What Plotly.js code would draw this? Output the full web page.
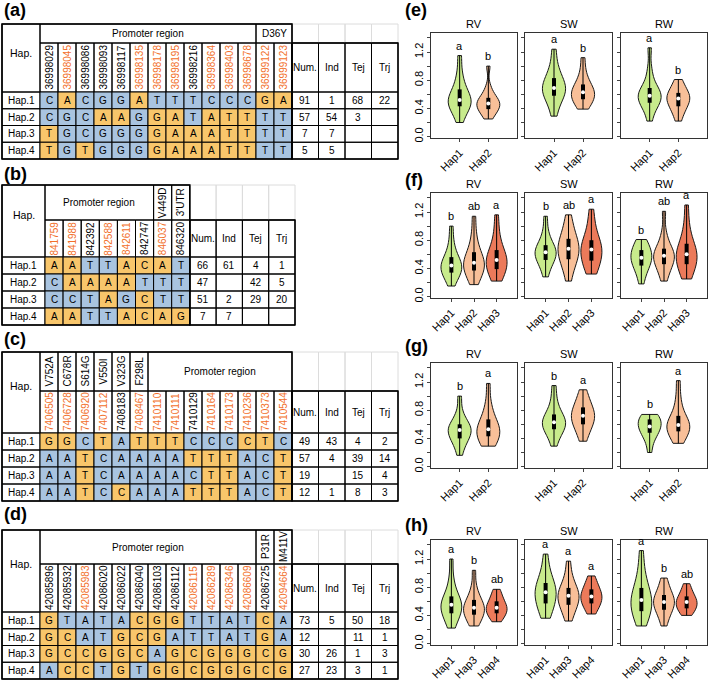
<!DOCTYPE html>
<html><head><meta charset="utf-8">
<script src="https://cdn.plot.ly/plotly-3.0.1.min.js"></script>
<style>body{margin:0;background:#fff}#chart{width:709px;height:681px}</style>
</head><body><div id="chart"></div>
<script>
// ---------------- DATA: haplotype tables ----------------
const hapLabels = ["Hap.1","Hap.2","Hap.3","Hap.4"];
const statNames = ["Num.","Ind","Tej","Trj"];

// (a)
const aPositions = ["36998029","36998045","36998086","36998093","36998117","36998135","36998178","36998195","36998216","36998364","36998403","36998678","36999122","36999123"];
const aOrange = [0,1,0,0,0,1,1,1,0,1,1,1,1,1];
const aAlleles = ["CACGGATTTCCCGA","CGCAAGGATATTTT","TGCGGGGAAATTTT","TGTGGGGAAATTTT"];
const aFills = ["BYBBBYBBBBBBYY","BBBYYBYYBYYYBB","YBBBBBYYYYYYBB","YBYBBBYYYYYYBB"];
const aNum = [91,57,7,5], aInd = [1,54,7,5], aTej = [68,3,null,null], aTrj = [22,null,null,null];
const aGroups = [["Promoter region",12,0],["D36Y",2,0]];

// (b)
const bPositions = ["841759","841988","842392","842588","842611","842747","846037","846320"];
const bOrange = [1,1,0,1,1,0,1,0];
const bAlleles = ["AATTACAT","CAAAATTT","CCTAGCTT","AATTACAG"];
const bFills = ["YYBBYYYB","BYYYYBBB","BBBYBYBB","YYBBYYYY"];
const bNum = [66,47,51,7], bInd = [61,null,2,7], bTej = [4,42,29,null], bTrj = [1,5,20,null];
const bGroups = [["Promoter region",6,0],["V449D",1,1],["3'UTR",1,1]];

// (c)
const cPositions = ["7406505","7406728","7406920","7407112","7408183","7408467","7410110","7410111","7410129","7410164","7410173","7410236","7410373","7410544"];
const cOrange = [1,1,1,1,0,1,1,1,0,1,1,1,1,1];
const cAlleles = ["GGCTATTTCCCCTC","AATCAAAATTTACT","AATCAAAACTTACT","AATCCAAATTTACT"];
const cFills = ["YYBYBYYYBBBYYB","BBYBBBBBYYYBBY","BBYBBBBBBYYBBY","BBYBYBBBYYYBBY"];
const cNum = [49,57,19,12], cInd = [43,4,null,1], cTej = [4,39,15,8], cTrj = [2,14,4,3];
const cGroups = [["V752A",1,1],["C678R",1,1],["S614G",1,1],["V550I",1,1],["V323G",1,1],["F298L",1,1],["Promoter region",8,0]];

// (d)
const dPositions = ["42085896","42085932","42085983","42086020","42086022","42086040","42086103","42086112","42086115","42086289","42086346","42086609","42086725","42094664"];
const dOrange = [0,0,1,0,0,0,0,0,1,1,1,1,0,1];
const dAlleles = ["GTATACGGTTATCA","GCATGCGATTATGA","GCCGGCAGCGGGCG","ACCTGTGGCGGGCG"];
const dFills = ["YBBBBYYYBBBBYB","YYBBYYYBBBBBYB","YYYYYYBYYYYYYY","BYYBYBYYYYYYYY"];
const dNum = [73,12,30,27], dInd = [5,null,26,23], dTej = [50,11,1,3], dTrj = [18,1,3,1];
const dGroups = [["Promoter region",12,0],["P31R",1,1],["M411V",1,1]];

// ---------------- DATA: violin panels (estimated sample values) ----------------
const traitNames = ["RV","SW","RW"];
const eGroups = ["Hap1","Hap2"];
const eRV = [[0.20,0.33,0.40,0.43,0.47,0.50,0.52,0.55,0.60,0.67,0.75,0.90,1.15],
             [0.25,0.32,0.36,0.39,0.42,0.45,0.47,0.49,0.52,0.55,0.60,0.70,1.00]];
const eSW = [[0.29,0.45,0.53,0.58,0.63,0.67,0.69,0.72,0.77,0.83,0.90,1.02,1.24],
             [0.39,0.46,0.50,0.53,0.57,0.60,0.63,0.65,0.69,0.74,0.80,0.92,1.12]];
const eRW = [[0.22,0.38,0.44,0.48,0.53,0.56,0.58,0.61,0.65,0.69,0.78,0.95,1.26],
             [0.22,0.33,0.39,0.43,0.48,0.52,0.54,0.56,0.59,0.62,0.67,0.73,0.81]];
const eLetters = [["a","b"],["a","b"],["a","b"]];

const fGroups = ["Hap1","Hap2","Hap3"];
const fRV = [[0.15,0.27,0.31,0.34,0.38,0.42,0.44,0.47,0.51,0.56,0.64,0.78,1.00],
             [0.17,0.28,0.33,0.37,0.42,0.46,0.48,0.51,0.56,0.63,0.72,0.88,1.14],
             [0.22,0.30,0.35,0.39,0.45,0.50,0.52,0.55,0.60,0.66,0.76,0.92,1.16]];
const fSW = [[0.28,0.42,0.48,0.52,0.57,0.61,0.63,0.65,0.69,0.73,0.80,0.92,1.14],
             [0.22,0.40,0.47,0.53,0.60,0.65,0.68,0.71,0.76,0.82,0.90,1.00,1.16],
             [0.32,0.40,0.46,0.51,0.58,0.64,0.67,0.70,0.75,0.80,0.90,1.04,1.24]];
const fRW = [[0.18,0.32,0.39,0.44,0.49,0.53,0.55,0.58,0.62,0.66,0.71,0.76,0.81],
             [0.22,0.34,0.41,0.46,0.51,0.55,0.58,0.60,0.64,0.68,0.76,0.90,1.21],
             [0.25,0.34,0.40,0.46,0.52,0.57,0.60,0.63,0.68,0.75,0.85,1.02,1.30]];
const fLetters = [["b","ab","a"],["b","ab","a"],["b","ab","a"]];

const gGroups = ["Hap1","Hap2"];
const gRV = [[0.16,0.30,0.36,0.40,0.45,0.49,0.52,0.54,0.57,0.60,0.66,0.77,1.00],
             [0.29,0.31,0.37,0.43,0.47,0.50,0.53,0.56,0.61,0.67,0.76,0.90,1.18]];
const gSW = [[0.29,0.43,0.49,0.53,0.57,0.61,0.63,0.66,0.70,0.74,0.82,0.95,1.15],
             [0.36,0.48,0.55,0.60,0.65,0.69,0.72,0.75,0.79,0.84,0.90,0.98,1.09]];
const gRW = [[0.20,0.36,0.43,0.48,0.52,0.55,0.57,0.60,0.64,0.67,0.70,0.73,0.74],
             [0.33,0.40,0.46,0.50,0.54,0.57,0.59,0.62,0.67,0.72,0.82,0.98,1.22]];
const gLetters = [["b","a"],["b","a"],["b","a"]];

const hGroups = ["Hap1","Hap3","Hap4"];
const hRV = [[0.22,0.33,0.39,0.43,0.48,0.52,0.55,0.58,0.62,0.67,0.76,0.92,1.20],
             [0.25,0.32,0.37,0.41,0.45,0.48,0.51,0.53,0.57,0.62,0.68,0.80,1.04],
             [0.31,0.37,0.40,0.43,0.46,0.49,0.51,0.53,0.56,0.60,0.65,0.71,0.77]];
const hSW = [[0.36,0.46,0.52,0.57,0.64,0.70,0.73,0.76,0.81,0.86,0.94,1.06,1.27],
             [0.32,0.44,0.50,0.55,0.60,0.65,0.68,0.70,0.74,0.79,0.86,0.97,1.17],
             [0.42,0.49,0.54,0.57,0.61,0.65,0.67,0.69,0.73,0.77,0.82,0.88,0.96]];
const hRW = [[0.25,0.36,0.42,0.46,0.53,0.59,0.62,0.66,0.72,0.79,0.90,1.06,1.32],
             [0.25,0.37,0.44,0.48,0.53,0.57,0.59,0.62,0.65,0.69,0.75,0.83,0.93],
             [0.40,0.45,0.48,0.50,0.54,0.57,0.59,0.61,0.64,0.67,0.72,0.78,0.85]];
const hLetters = [["a","b","ab"],["a","a","a"],["a","b","ab"]];

// ---------------- STYLE / LAYOUT ----------------
const W = 709, H = 681;
const FONT = 'Arial, "Liberation Sans", sans-serif';
const BLUE = '#a9c4e0', YELLOW = '#f8c66b', ORANGE = '#f26f2a';
const VCOL = ['#c8eb8c', '#f8bf98', '#ec7a5a'];
const shapes = [], annotations = [], traces = [];

function rect(x0, y0, x1, y1, fill, lc, lw) {
  shapes.push({type:'rect', xref:'x', yref:'y', x0, y0, x1, y1, layer:'above',
    fillcolor: fill || 'rgba(0,0,0,0)', line:{color: lc || '#000', width: lw === undefined ? 1 : lw}});
}
function txt(x, y, t, size, extra) {
  annotations.push(Object.assign({xref:'x', yref:'y', x, y, text:t, showarrow:false,
    xanchor:'center', yanchor:'middle', font:{family:FONT, size:size, color:'#000'}}, extra || {}));
}

function drawTable(g, pos, orange, alleles, fills, num, ind, tej, trj, groups) {
  const nS = pos.length;
  const xS0 = g.left + g.hapW, xSt0 = xS0 + nS * g.snpW;
  const yH2 = g.top + g.h1, yR0 = yH2 + g.h2, bottom = yR0 + hapLabels.length * g.rh;
  rect(g.left, g.top, xS0, yR0);
  txt((g.left + xS0) / 2, g.top + (yR0 - g.top) * 0.42, 'Hap.', 10.5);
  let c = 0;
  groups.forEach(([label, span, rot]) => {
    const x0 = xS0 + c * g.snpW, x1 = x0 + span * g.snpW;
    rect(x0, g.top, x1, yH2);
    txt((x0 + x1) / 2, (g.top + yH2) / 2, label, 10, rot ? {textangle:-90} : {});
    c += span;
  });
  pos.forEach((p, i) => {
    const x0 = xS0 + i * g.snpW;
    rect(x0, yH2, x0 + g.snpW, yR0);
    txt(x0 + g.snpW / 2, (yH2 + yR0) / 2, p, 10,
      {textangle:-90, font:{family:FONT, size:10, color: orange[i] ? ORANGE : '#000'}});
  });
  const stats = [num, ind, tej, trj];
  statNames.forEach((s, j) => {
    const x0 = xSt0 + j * g.statW;
    rect(x0, g.top, x0 + g.statW, yH2, null, '#dcdcdc', 1);
    rect(x0, yH2, x0 + g.statW, yR0);
    txt(x0 + g.statW / 2, (yH2 + yR0) / 2, s, 10);
  });
  hapLabels.forEach((h, r) => {
    const y0 = yR0 + r * g.rh, y1 = y0 + g.rh;
    rect(g.left, y0, xS0, y1);
    txt((g.left + xS0) / 2, (y0 + y1) / 2, h, 10);
    for (let i = 0; i < nS; i++) {
      const x0 = xS0 + i * g.snpW;
      rect(x0, y0, x0 + g.snpW, y1, fills[r][i] === 'B' ? BLUE : YELLOW);
      txt(x0 + g.snpW / 2, (y0 + y1) / 2, alleles[r][i], 10);
    }
    stats.forEach((arr, j) => {
      const x0 = xSt0 + j * g.statW;
      rect(x0, y0, x0 + g.statW, y1);
      if (arr[r] !== null) txt(x0 + g.statW / 2, (y0 + y1) / 2, String(arr[r]), 10);
    });
  });
  rect(g.left, g.top, xSt0, bottom, null, '#000', 1.6);
  rect(xSt0, yH2, xSt0 + 4 * g.statW, bottom, null, '#000', 1.4);
}

drawTable({left:2, top:24, hapW:38, snpW:18, statW:26.5, h1:19, h2:49, rh:16.75},
  aPositions, aOrange, aAlleles, aFills, aNum, aInd, aTej, aTrj, aGroups);
drawTable({left:2, top:185, hapW:43, snpW:18.1, statW:26.3, h1:35, h2:37, rh:17},
  bPositions, bOrange, bAlleles, bFills, bNum, bInd, bTej, bTrj, bGroups);
drawTable({left:2, top:352, hapW:38, snpW:18, statW:26.5, h1:39, h2:42, rh:17},
  cPositions, cOrange, cAlleles, cFills, cNum, cInd, cTej, cTrj, cGroups);
drawTable({left:2, top:530, hapW:38, snpW:18, statW:26.5, h1:34, h2:48, rh:16.75},
  dPositions, dOrange, dAlleles, dFills, dNum, dInd, dTej, dTrj, dGroups);

// panel labels
[["(a)",2,10],["(b)",2,174],["(c)",2,339],["(d)",2,514],
 ["(e)",403,10],["(f)",403,180],["(g)",403,346],["(h)",403,525]].forEach(([t,x,y]) =>
  txt(x, y, '<b>' + t + '</b>', 18, {xanchor:'left'}));

// ---------------- violins ----------------
function quant(arr, p) {
  const s = [...arr].sort((a, b) => a - b);
  const k = (s.length - 1) * p, lo = Math.floor(k), hi = Math.ceil(k);
  return s[lo] + (s[hi] - s[lo]) * (k - lo);
}
const colsPx = [[431,517],[525,612],[621,707]];
const rowsPx = [[33,138],[193,298],[363,468],[540,645]];
const panelRows = [
  {groups:eGroups, data:[eRV,eSW,eRW], letters:eLetters},
  {groups:fGroups, data:[fRV,fSW,fRW], letters:fLetters},
  {groups:gGroups, data:[gRV,gSW,gRW], letters:gLetters},
  {groups:hGroups, data:[hRV,hSW,hRW], letters:hLetters}
];

const layout = {
  width:W, height:H, margin:{l:0,r:0,t:0,b:0}, paper_bgcolor:'#fff', plot_bgcolor:'rgba(0,0,0,0)',
  showlegend:false, violinmode:'overlay', font:{family:FONT, size:10, color:'#000'},
  xaxis:{domain:[0,1], range:[0,W], visible:false, fixedrange:true},
  yaxis:{domain:[0,1], range:[H,0], visible:false, fixedrange:true},
  shapes, annotations
};

panelRows.forEach((P, r) => {
  const n = P.groups.length;
  const [top, bot] = rowsPx[r];
  P.data.forEach((groupData, c) => {
    const k = 2 + r * 3 + c;
    const [lft, rgt] = colsPx[c];
    const xa = 'x' + k, ya = 'y' + k;
    layout['xaxis' + k] = {domain:[lft / W, rgt / W], anchor:ya, range: n === 2 ? [-1, 2] : [-0.9, 2.9],
      tickvals: P.groups.map((_, i) => i), ticktext: P.groups, tickangle:-45, ticks:'outside', ticklen:3,
      tickfont:{family:FONT, size:11, color:'#000'}, showline:true, mirror:true, linecolor:'#333', linewidth:1,
      showgrid:false, zeroline:false, fixedrange:true};
    layout['yaxis' + k] = {domain:[1 - bot / H, 1 - top / H], anchor:xa, range:[-0.02, 1.47],
      tickvals:[0,0.2,0.4,0.6,0.8,1.0,1.2,1.4],
      ticktext: c === 0 ? ['0.0','','0.4','','0.8','','1.2',''] : ['','','','','','','',''],
      tickangle:-90, ticks:'outside', ticklen:3, tickfont:{family:FONT, size:11, color:'#000'},
      showline:true, mirror:true, linecolor:'#333', linewidth:1, showgrid:false, zeroline:false, fixedrange:true};
    annotations.push({xref:'paper', yref:'paper', x:(lft + rgt) / 2 / W, y:1 - (top - 1) / H,
      yanchor:'bottom', xanchor:'center', showarrow:false, text:traitNames[c],
      font:{family:FONT, size:11, color:'#000'}});
    groupData.forEach((vals, i) => {
      traces.push({type:'violin', x: vals.map(() => i), y: vals, xaxis:xa, yaxis:ya,
        spanmode:'hard', scalemode:'width', width: n === 2 ? 0.8 : 0.92, points:false,
        fillcolor: VCOL[i], line:{color:'#1a1a1a', width:1}, opacity:1,
        box:{visible:false}, meanline:{visible:false}, hoverinfo:'skip', showlegend:false});
      const mn = Math.min(...vals), mx = Math.max(...vals);
      traces.push({type:'scatter', mode:'lines', x:[i, i], y:[mn, mx], xaxis:xa, yaxis:ya,
        line:{color:'#000', width:1}, hoverinfo:'skip', showlegend:false});
      traces.push({type:'scatter', mode:'lines', x:[i, i], y:[quant(vals, 0.25), quant(vals, 0.75)], xaxis:xa, yaxis:ya,
        line:{color:'#000', width:4}, hoverinfo:'skip', showlegend:false});
      traces.push({type:'scatter', mode:'markers', x:[i], y:[quant(vals, 0.5)], xaxis:xa, yaxis:ya,
        marker:{color:'#fff', size:4}, hoverinfo:'skip', showlegend:false});
      annotations.push({xref:xa, yref:ya, x:i, y:mx, yshift:2, yanchor:'bottom', xanchor:'center',
        showarrow:false, text:P.letters[c][i], font:{family:FONT, size:11, color:'#000'}});
    });
  });
});

Plotly.newPlot('chart', traces, layout, {staticPlot:true, displayModeBar:false});
</script>
</body></html>
